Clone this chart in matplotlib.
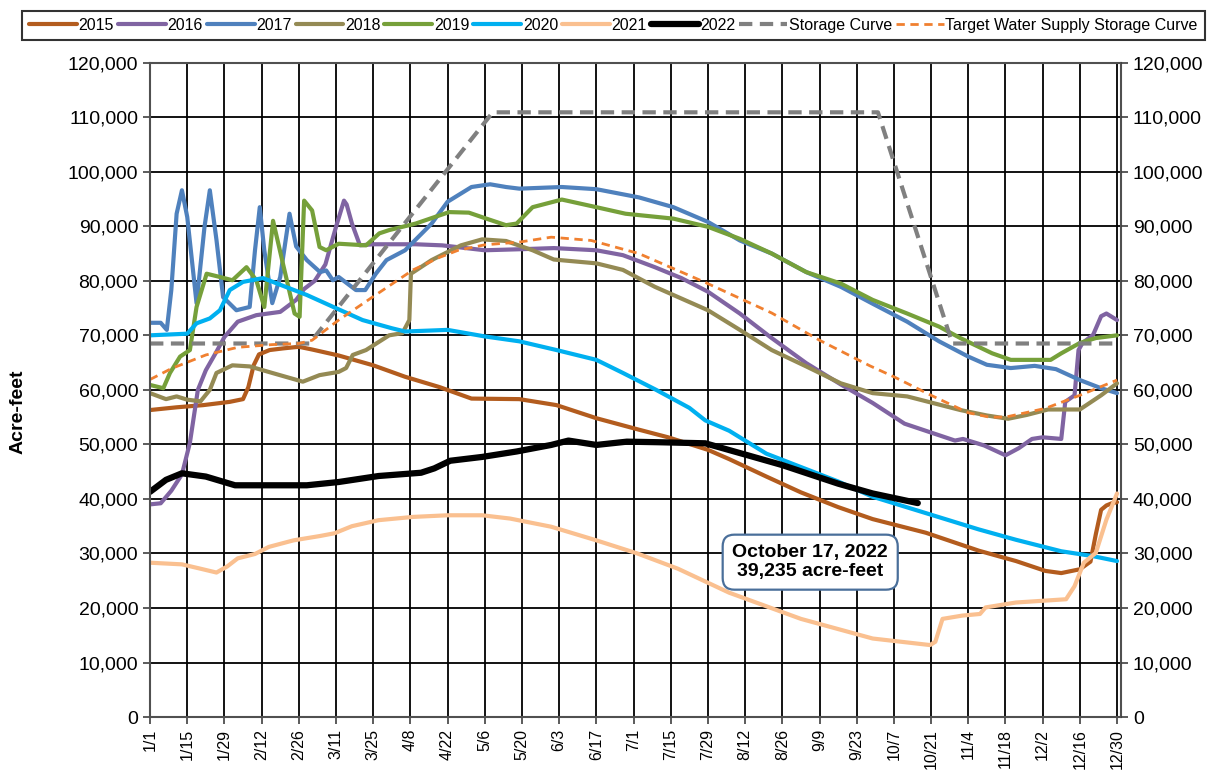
import matplotlib
matplotlib.use('Agg')
import matplotlib.pyplot as plt
from matplotlib.ticker import FuncFormatter

plt.rcParams['font.family'] = ['Liberation Sans', 'DejaVu Sans']

# day of year (0 = 1/1) and storage in acre-feet
tick_labels = ['1/1', '1/15', '1/29', '2/12', '2/26', '3/11', '3/25', '4/8', '4/22',
               '5/6', '5/20', '6/3', '6/17', '7/1', '7/15', '7/29', '8/12', '8/26',
               '9/9', '9/23', '10/7', '10/21', '11/4', '11/18', '12/2', '12/16', '12/30']

d2015 = [0, 10, 20, 30, 35, 37, 39, 41, 45, 50, 56, 61, 71, 84, 96, 109, 121, 139, 153, 168,
         184, 195, 210, 218, 232, 245, 259, 272, 292, 312, 326, 337, 343, 350, 354, 356, 358,
         360, 362, 364]
v2015 = [56300, 56800, 57200, 57800, 58300, 60500, 64500, 66500, 67300, 67600, 67900, 67400,
         66300, 64500, 62400, 60500, 58400, 58300, 57200, 54800, 52700, 51300, 49000, 47300,
         44100, 41200, 38500, 36300, 33800, 30500, 28600, 26800, 26400, 27100, 28500, 33500,
         38000, 38800, 39200, 39400]

d2016 = [0, 4, 8, 12, 15, 18, 21, 25, 28, 33, 40, 49, 55, 58, 62, 66, 70, 73, 74, 76, 79, 84,
         100, 110, 126, 140, 152, 168, 178, 190, 200, 210, 222, 234, 247, 260, 272, 284, 303,
         306, 314, 322, 327, 332, 336, 343, 344.5, 348, 349.5, 351, 355, 358, 360, 364]
v2016 = [39000, 39200, 41500, 44500, 50300, 60000, 63600, 67000, 69700, 72500, 73700, 74300,
         76500, 78500, 80000, 83000, 89900, 94700, 94000, 90500, 86500, 86700, 86700, 86500,
         85600, 85800, 86000, 85600, 84700, 82500, 80500, 78000, 74000, 69500, 64900, 61000,
         57600, 53800, 50700, 51000, 49800, 48000, 49300, 51000, 51300, 51000, 57800, 59000,
         67300, 68600, 70100, 73500, 74000, 72800]

d2017 = [0, 4, 6.3, 8, 10, 12, 14, 17.5, 20.5, 22.5, 25, 27.5, 32.5, 37.5, 39.5, 41.3, 43,
         46, 49, 52.5, 55, 59, 64, 66.3, 68.8, 71, 77.5, 81, 85, 89, 96, 106, 112, 121, 128,
         134, 139, 155, 168, 184, 197, 210, 222, 234, 247, 260, 272, 285, 297, 308, 315, 324,
         333, 341, 350, 358, 364]
v2017 = [72300, 72300, 71000, 78300, 92300, 96600, 91700, 75900, 89900, 96600, 87500, 77000,
         74600, 75200, 85600, 93500, 85600, 75900, 80700, 92300, 86300, 83800, 81600, 81900,
         80100, 80700, 78300, 78300, 81300, 83800, 85600, 90500, 94500, 97200, 97700, 97200,
         96900, 97200, 96800, 95300, 93500, 90800, 87400, 85000, 81600, 78900, 75800, 72500,
         68900, 66100, 64600, 64000, 64400, 63800, 61800, 60300, 59400]

d2018 = [0, 6, 10, 14, 19, 22.5, 25, 31, 37.5, 46, 57.5, 63.8, 71, 73.8, 76.3, 81.3, 90, 95,
         97.6, 98.2, 106, 117, 125, 134, 144, 152, 168, 178, 190, 210, 222, 234, 247, 260, 272,
         285, 297, 305, 315, 323, 330, 338, 350, 358, 364]
v2018 = [59400, 58300, 58800, 58200, 57900, 60000, 63100, 64500, 64300, 63100, 61500, 62700,
         63300, 64000, 66400, 67300, 70000, 70400, 72800, 81300, 83800, 86500, 87600, 87300,
         85600, 83900, 83200, 82000, 78900, 74600, 71000, 67300, 64300, 61200, 59400, 58800,
         57300, 56300, 55300, 54700, 55400, 56400, 56400, 59000, 61200]

d2019 = [0, 5, 7.5, 11.3, 15, 17.5, 21.3, 26.3, 31, 36.3, 40, 43, 46.3, 50, 54.4, 56.3, 58,
         61, 63.8, 66.3, 71, 81.3, 86.3, 90, 100, 112.6, 120, 126, 134, 138, 144, 155, 168,
         179, 197, 210, 222, 234, 247, 260, 272, 285, 297, 305, 317, 324, 339, 343, 350, 356,
         364]
v2019 = [60900, 60300, 63100, 66100, 67300, 75200, 81300, 80700, 80100, 82500, 80100, 75200,
         91000, 83200, 74000, 73400, 94700, 92900, 86200, 85600, 86800, 86500, 88700, 89300,
         90500, 92600, 92500, 91500, 90200, 90500, 93500, 94900, 93500, 92300, 91400, 89900,
         87700, 85000, 81600, 79500, 76500, 74000, 71600, 69500, 66700, 65500, 65500, 66700,
         68600, 69500, 70000]

d2020 = [0, 14, 17.5, 22.5, 26.3, 30, 35, 42.5, 51, 59, 69, 80, 91, 96, 112, 126, 139, 153,
         168, 178, 190.5, 203, 209, 218, 232, 259, 272, 292, 312, 326, 343, 355, 364]
v2020 = [70000, 70300, 72200, 73100, 74600, 78300, 79800, 80500, 78900, 77400, 75200, 72800,
         71300, 70700, 71000, 69800, 68900, 67300, 65500, 63100, 60000, 56700, 54400, 52500,
         48300, 43200, 40400, 37400, 34400, 32500, 30400, 29500, 28600]

d2021 = [0, 12, 19, 25, 29, 33, 39.5, 44.7, 54, 64, 69.4, 76, 86, 99, 112, 125, 135.5, 151,
         168, 183.4, 198.7, 218, 245, 272, 293.6, 295.6, 298.3, 305.7, 312.4, 314.5, 325.9,
         344.8, 348, 351.5, 356, 360, 364]
v2021 = [28300, 28000, 27200, 26500, 27600, 29100, 29900, 31200, 32400, 33200, 33700, 35000,
         36100, 36700, 37000, 37000, 36400, 34900, 32400, 30000, 27200, 22800, 18000, 14400,
         13200, 13800, 18000, 18600, 18900, 20100, 21000, 21600, 24000, 28300, 30100, 36200,
         41000]

d2022 = [0, 6, 12, 21, 32, 47, 59, 71, 86, 102, 107, 113, 125, 138, 151, 157.5, 168, 179.5,
         191, 209, 225, 238, 259, 272, 289]
v2022 = [41300, 43500, 44700, 44100, 42500, 42500, 42500, 43100, 44200, 44800, 45600, 47000,
         47700, 48700, 49900, 50700, 49900, 50500, 50400, 50200, 48000, 46200, 42800, 41000,
         39235]

d_storage = [0, 60, 129, 274, 302, 365]
v_storage = [68500, 68500, 110900, 110900, 68500, 68500]

d_target = [0, 8, 21, 33, 46, 56, 61, 71, 84, 99, 109, 116, 126, 139, 151, 166, 184, 209, 234,
            252, 271, 280, 294, 308, 316, 322, 337, 350, 364]
v_target = [61900, 63900, 66400, 67800, 68300, 68500, 69100, 72800, 77100, 82000, 84300, 85600,
            86600, 87100, 88000, 87400, 85000, 79700, 74100, 69100, 64400, 62400, 59000, 55800,
            55000, 55000, 56600, 59000, 61800]

years = [
    ('2015', d2015, v2015, '#B35C1E'),
    ('2016', d2016, v2016, '#8064A2'),
    ('2017', d2017, v2017, '#4F81BD'),
    ('2018', d2018, v2018, '#948A54'),
    ('2019', d2019, v2019, '#76A03A'),
    ('2020', d2020, v2020, '#00B0F0'),
    ('2021', d2021, v2021, '#FAC090'),
]

fig = plt.figure(figsize=(12.16, 7.72), dpi=100)
ax = fig.add_axes([0.1234, 0.0712, 0.7985, 0.8476])

for name, d, v, c in years:
    ax.plot(d, v, color=c, lw=3, label=name, solid_capstyle='round', solid_joinstyle='round')
ax.plot(d2022, v2022, color='black', lw=4.5, label='2022', solid_capstyle='round')
ax.plot(d_storage, v_storage, color='#808080', lw=3, dashes=(3.2, 1.8), label='Storage Curve')
ax.plot(d_target, v_target, color='#F08030', lw=2, dashes=(3, 2),
        label='Target Water Supply Storage Curve')

ax.set_xlim(0, 365.5)
ax.set_ylim(0, 120000)
ax.set_xticks(range(0, 365, 14))
ax.set_xticklabels(tick_labels, rotation=90, fontsize=11.5)
ax.set_yticks(range(0, 120001, 10000))
fmt = FuncFormatter(lambda v, p: f'{int(v):,}')
ax.yaxis.set_major_formatter(fmt)
ax.tick_params(axis='y', labelsize=14, length=5, width=1.2, color='#404040')
ax.tick_params(axis='x', length=5, width=1.2, color='#404040')
ax.grid(True, color='black', lw=1.3)
ax.set_axisbelow(True)
for s in ax.spines.values():
    s.set_color('#505050')
    s.set_linewidth(1.5)
fig.text(0.0148, 0.466, 'Acre-feet', rotation=90, ha='center', va='center',
         fontsize=14, fontweight='bold')

ax2 = ax.twinx()
ax2.set_ylim(0, 120000)
ax2.set_yticks(range(0, 120001, 10000))
ax2.yaxis.set_major_formatter(fmt)
ax2.tick_params(axis='y', labelsize=14, length=5, width=1.2, color='#404040')
for s in ax2.spines.values():
    s.set_visible(False)

ax.text(248.5, 28400, 'October 17, 2022\n39,235 acre-feet', ha='center', va='center',
        fontsize=14, fontweight='bold', linespacing=1.12,
        bbox=dict(boxstyle='round,pad=0.5,rounding_size=0.6', fc='white', ec='#4A6F9A', lw=1.6))

leg = fig.legend(loc='lower left', bbox_to_anchor=(0.018, 0.948, 0.973, 0.042), mode='expand',
                 ncol=10, fontsize=11.5, handlelength=3.0, handletextpad=0.1,
                 columnspacing=0.6, borderaxespad=0, fancybox=False, frameon=True,
                 borderpad=0.45)
leg.get_frame().set_edgecolor('black')
leg.get_frame().set_linewidth(1.5)

plt.savefig('out.png', dpi=100)
